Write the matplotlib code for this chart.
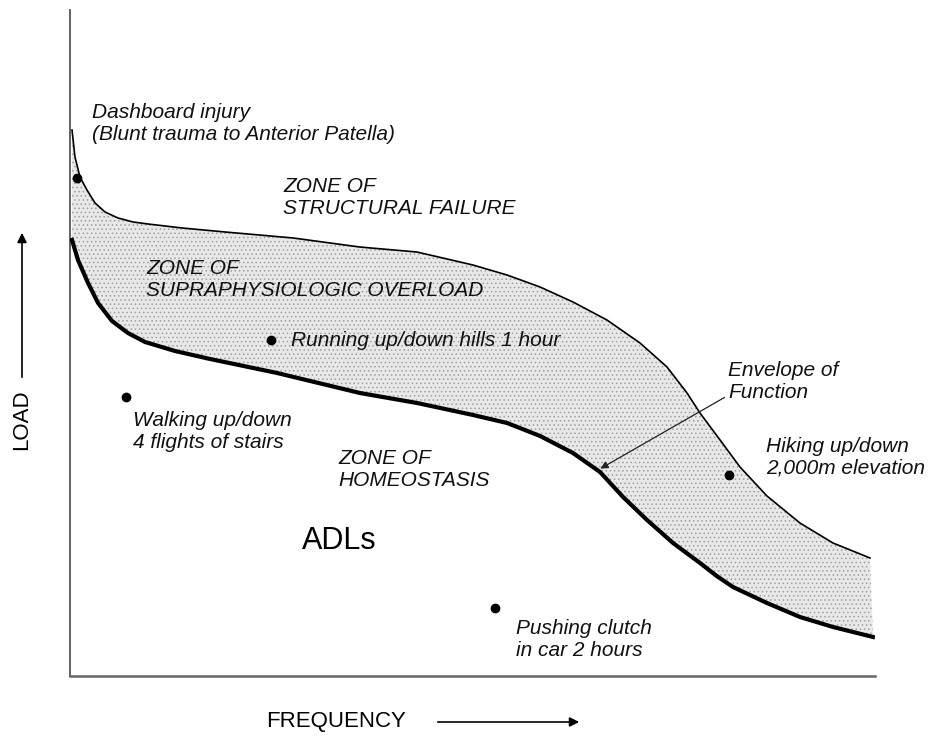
import numpy as np
import matplotlib
matplotlib.use("Agg")
import matplotlib.pyplot as plt
from matplotlib.patches import FancyArrowPatch

# --- data (frequency 0-100, load 0-100) ---
upper_x = [0.25, 0.62, 1.24, 2.11, 3.11, 4.35, 5.96, 7.83, 9.69, 13.91, 19.25, 27.70,
           36.02, 43.11, 50.06, 54.29, 58.39, 62.48, 66.71, 70.81, 74.16, 76.65,
           78.26, 80.75, 83.23, 86.58, 90.68, 94.78, 99.38]
upper_y = [81.98, 77.93, 74.92, 72.97, 71.02, 69.67, 68.77, 68.17, 67.87, 67.27, 66.67, 65.77,
           64.41, 63.66, 61.71, 60.21, 58.41, 56.16, 53.45, 50.00, 46.40, 42.49,
           39.49, 35.44, 31.38, 27.03, 22.97, 19.97, 17.72]

lower_x = [0.25, 0.99, 2.24, 3.48, 5.22, 7.20, 9.32, 13.04, 17.39, 25.71, 36.02,
           43.11, 50.06, 54.29, 58.39, 62.48, 65.84, 68.70, 71.68, 74.91, 78.26,
           80.33, 82.36, 86.58, 90.68, 94.78, 99.75]
lower_y = [65.47, 62.46, 59.01, 56.01, 53.30, 51.50, 50.15, 48.80, 47.60, 45.50, 42.49,
           40.99, 39.19, 37.99, 36.04, 33.48, 30.63, 26.88, 23.42, 19.97, 16.97,
           15.02, 13.36, 10.96, 8.86, 7.36, 5.86]

# activities: dashboard, running, walking, hiking, clutch
point_x = [0.9, 25.0, 7.0, 81.9, 52.8]
point_y = [74.8, 50.5, 41.9, 30.2, 10.2]

plt.rcParams["hatch.linewidth"] = 0.6

fig = plt.figure(figsize=(9.3, 7.36), dpi=100)
ax = fig.add_axes([70 / 930, 60 / 736, 805 / 930, 666 / 736])
ax.set_xlim(0, 100)
ax.set_ylim(0, 100)

# shaded "envelope of function" band
poly_x = np.concatenate([upper_x, lower_x[::-1]])
poly_y = np.concatenate([upper_y, lower_y[::-1]])
ax.fill(poly_x, poly_y, facecolor="#e8e8e8", edgecolor="#a0a0a0", hatch="....",
        linewidth=0, zorder=1)

ax.plot(upper_x, upper_y, color="black", linewidth=1.2, zorder=3,
        solid_joinstyle="round")
ax.plot(lower_x, lower_y, color="black", linewidth=3.0, zorder=3,
        solid_joinstyle="round")
ax.plot(point_x, point_y, "o", color="black", markersize=6, zorder=4)

# spines
for s in ["top", "right"]:
    ax.spines[s].set_visible(False)
ax.spines["left"].set_color("#555555")
ax.spines["left"].set_linewidth(1.3)
ax.spines["bottom"].set_color("#666666")
ax.spines["bottom"].set_linewidth(1.8)
ax.set_xticks([])
ax.set_yticks([])

fam = "Liberation Sans"
it = dict(family=fam, style="italic", fontsize=15, color="#111111",
          linespacing=1.2, va="center", ha="left")

def px(x, y):
    # pixel position in the 930x736 picture -> data coords
    return (x - 70) / 8.05, (676 - y) / 6.66

ax.text(*px(92, 123), "Dashboard injury\n(Blunt trauma to Anterior Patella)", **it)
ax.text(*px(283, 198), "ZONE OF\nSTRUCTURAL FAILURE", **it)
ax.text(*px(146, 279), "ZONE OF\nSUPRAPHYSIOLOGIC OVERLOAD", **it)
ax.text(*px(291, 340), "Running up/down hills 1 hour", **it)
ax.text(*px(133, 431), "Walking up/down\n4 flights of stairs", **it)
ax.text(*px(338, 470), "ZONE OF\nHOMEOSTASIS", **it)
ax.text(*px(728, 381), "Envelope of\nFunction", **it)
ax.text(*px(766, 457), "Hiking up/down\n2,000m elevation", **it)
ax.text(*px(516, 639), "Pushing clutch\nin car 2 hours", **it)
ax.text(*px(302, 541), "ADLs", family=fam, fontsize=22, va="center", ha="left")

ax.annotate("", xy=px(598, 470), xytext=px(727, 396),
            arrowprops=dict(arrowstyle="-|>", color="#222222", lw=0.9,
                            mutation_scale=11))

# axis labels with arrows, outside the axes
fig.text(22 / 930, 1 - 420 / 736, "LOAD", rotation=90, family=fam, fontsize=16,
         ha="center", va="center")
fig.text(266 / 930, 1 - 722 / 736, "FREQUENCY", family=fam, fontsize=16,
         ha="left", va="center")
fig.patches.append(FancyArrowPatch(
    (22 / 930, 1 - 380 / 736), (22 / 930, 1 - 230 / 736), transform=fig.transFigure,
    arrowstyle="-|>", mutation_scale=14, color="black", lw=1.2))
fig.patches.append(FancyArrowPatch(
    (435 / 930, 1 - 722 / 736), (582 / 930, 1 - 722 / 736), transform=fig.transFigure,
    arrowstyle="-|>", mutation_scale=14, color="black", lw=1.2))

fig.savefig("out.png", dpi=100)
